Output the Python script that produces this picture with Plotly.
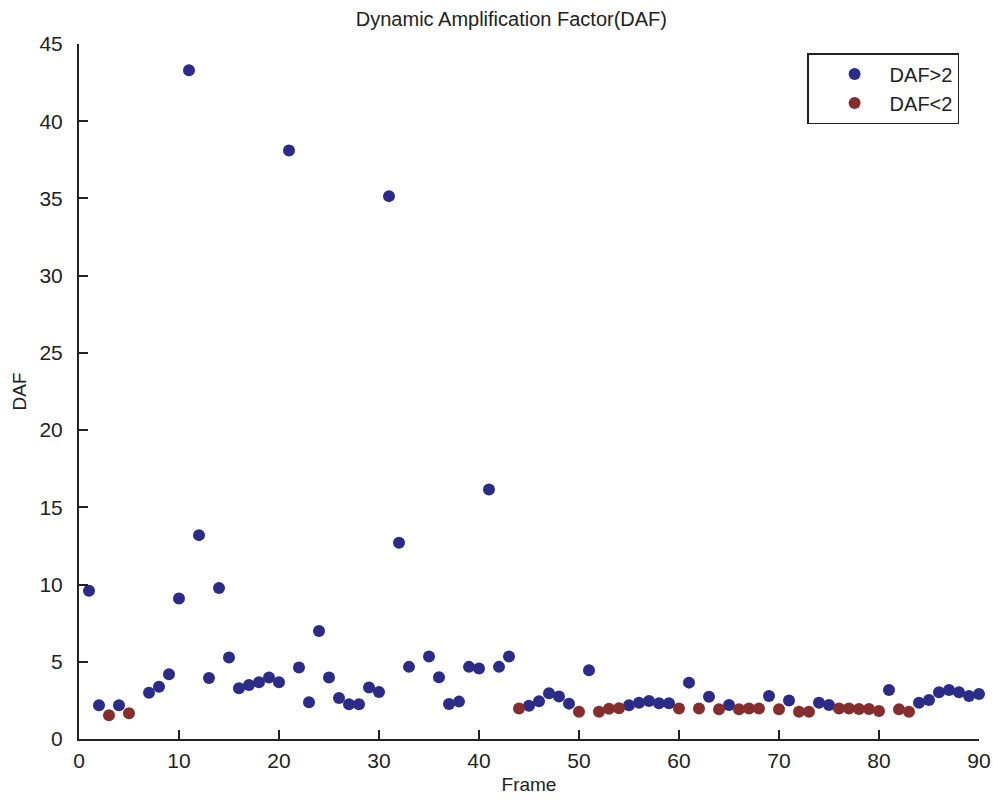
import plotly.graph_objects as go

# Frame numbers and dynamic amplification factor per frame
frames = [1, 2, 3, 4, 5, 7, 8, 9, 10, 11, 12, 13, 14, 15, 16, 17, 18, 19, 20,
          21, 22, 23, 24, 25, 26, 27, 28, 29, 30, 31, 32, 33, 35, 36, 37, 38, 39,
          40, 41, 42, 43, 44, 45, 46, 47, 48, 49, 50, 51, 52, 53, 54, 55, 56, 57,
          58, 59, 60, 61, 62, 63, 64, 65, 66, 67, 68, 69, 70, 71, 72, 73, 74, 75,
          76, 77, 78, 79, 80, 81, 82, 83, 84, 85, 86, 87, 88, 89, 90]
daf = [9.6, 2.18, 1.54, 2.18, 1.67, 3.0, 3.39, 4.19, 9.1, 43.3, 13.2, 3.95, 9.77, 5.27,
       3.29, 3.5, 3.68, 3.98, 3.68, 38.1, 4.63, 2.38, 7.0, 3.98, 2.66, 2.25, 2.25,
       3.33, 3.05, 35.15, 12.7, 4.67, 5.34, 4.0, 2.27, 2.42, 4.67, 4.56, 16.15, 4.67,
       5.34, 1.98, 2.16, 2.44, 2.96, 2.75, 2.29, 1.77, 4.45, 1.77, 1.96, 1.99, 2.18,
       2.35, 2.46, 2.31, 2.31, 1.97, 3.65, 1.98, 2.74, 1.92, 2.2, 1.92, 1.97, 1.97,
       2.79, 1.93, 2.49, 1.77, 1.77, 2.35, 2.2, 1.97, 1.97, 1.94, 1.94, 1.81, 3.17,
       1.93, 1.77, 2.35, 2.52, 3.02, 3.17, 3.02, 2.79, 2.92]

threshold = 2
hi_x = [f for f, d in zip(frames, daf) if d > threshold]
hi_y = [d for d in daf if d > threshold]
lo_x = [f for f, d in zip(frames, daf) if d < threshold]
lo_y = [d for d in daf if d < threshold]

blue = "#2b2b88"
red = "#862e2e"
ink = "#222222"
tick_font = dict(family="Liberation Sans Narrow, Liberation Sans, Arial", size=21, color=ink)
label_font = dict(family="Liberation Sans, Arial", size=19, color=ink)

fig = go.Figure()
fig.add_trace(go.Scatter(x=hi_x, y=hi_y, mode="markers", name="DAF>2",
                         marker=dict(color=blue, size=12), cliponaxis=False))
fig.add_trace(go.Scatter(x=lo_x, y=lo_y, mode="markers", name="DAF<2",
                         marker=dict(color=red, size=12), cliponaxis=False))

fig.update_layout(
    width=993, height=800,
    margin=dict(l=79, r=14, t=44, b=61),
    paper_bgcolor="white", plot_bgcolor="white",
    title=dict(text="Dynamic Amplification Factor(DAF)", x=0.515, xanchor="center",
               y=0.976, yanchor="middle",
               font=dict(family="Liberation Sans, Arial", size=20, color=ink)),
    legend=dict(x=0.809, y=0.987, xanchor="left", yanchor="top",
                bordercolor=ink, borderwidth=1.5, bgcolor="white",
                font=dict(family="Liberation Sans, Arial", size=20, color=ink),
                indentation=11, itemwidth=60, tracegroupgap=0),
    showlegend=True,
)
fig.update_xaxes(range=[0, 90], dtick=10, tick0=0, showgrid=False, zeroline=False,
                 automargin=False,
                 showline=True, linecolor=ink, linewidth=2,
                 ticks="inside", ticklen=9, tickwidth=2, tickcolor=ink,
                 tickfont=tick_font, ticklabelstandoff=2,
                 title=dict(text="Frame", standoff=6, font=label_font))
fig.update_yaxes(range=[0, 45], dtick=5, tick0=0, showgrid=False, zeroline=False,
                 automargin=False,
                 showline=True, linecolor=ink, linewidth=2,
                 ticks="inside", ticklen=9, tickwidth=2, tickcolor=ink,
                 tickfont=tick_font, ticklabelstandoff=10,
                 title=dict(text="DAF", standoff=8, font=label_font))

fig.write_html("out.html")
